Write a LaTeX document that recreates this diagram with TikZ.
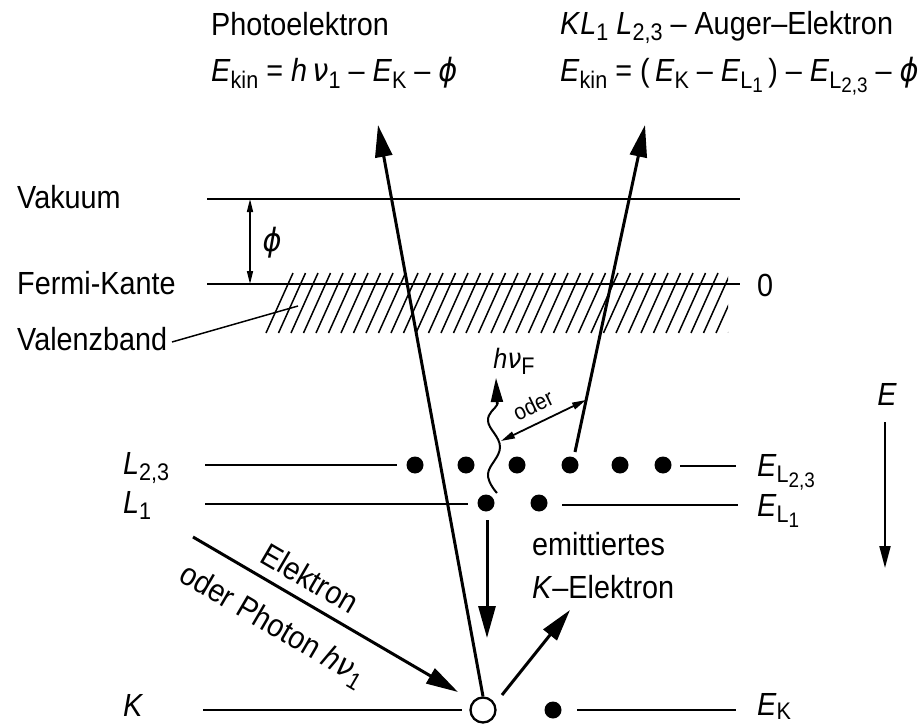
\documentclass[tikz,border=0pt]{standalone}
\usepackage{fontspec}
\setmainfont{Liberation Sans}[FakeStretch=0.9]
\newfontfamily\grk{DejaVu Sans}[FakeStretch=0.9]
\usetikzlibrary{arrows.meta}
\newcommand\lo[1]{\raisebox{-6pt}{\fontsize{24}{24}\selectfont #1}}
\newcommand\llo[1]{\raisebox{-5pt}{\fontsize{21}{21}\selectfont #1}}
\newcommand\gi[1]{{\grk\itshape #1}}
\tikzset{
  txt/.style={inner sep=0pt, anchor=base west, font=\fontsize{32}{38}\selectfont},
  ctxt/.style={inner sep=0pt, anchor=center, font=\fontsize{32}{38}\selectfont},
  lvl/.style={line width=2.3pt},
  thinl/.style={line width=1.5pt},
  bigarrow/.style={line width=3pt, -{Triangle[length=32pt,width=17pt]}},
  dot/.style={circle, fill=black, inner sep=0pt, minimum size=17pt},
  hole/.style={circle, draw=black, line width=2.3pt, inner sep=0pt, minimum size=25pt},
}
\begin{document}
\begin{tikzpicture}[x=1pt,y=-1pt]
\useasboundingbox (0,0) rectangle (922,725);

% titles
\node[txt] (t1) at (211,36) {Photoelektron};
\node[txt] (f1) at (211,82) {\textit{E}\lo{kin} = \textit{h}\,\gi{ν}\lo{1} – \textit{E}\lo{K} – \gi{ϕ}};
\node[txt] (t2) at (560,35) {\textit{K}\textit{L}\lo{1} \textit{L}\lo{2,3} – Auger–Elektron};
\node[txt] (f2) at (560,82) {\textit{E}\lo{kin} = (\,\textit{E}\lo{K} – \textit{E}\lo{L\llo{1}}\,) – \textit{E}\lo{L\llo{2,3}} – \gi{ϕ}};

% left labels
\node[txt] (vak) at (17,208) {Vakuum};
\node[txt] (fer) at (17,294) {Fermi-Kante};
\node[txt] (val) at (17,350) {Valenzband};
\node[txt] (null) at (757,296) {0};
\node[ctxt] (phi) at (272,243) {\gi{ϕ}};

% hatching
\begin{scope}
  \clip (250,271) rectangle (728,336);
  \foreach \k in {0,...,37} {
    \draw[line width=1.5pt] ({293+12.5*\k},273) -- ++(-27,60);
  }
\end{scope}

% levels
\coordinate (vL) at (207,199);
\coordinate (vR) at (740,199);
\coordinate (fL) at (207,284);
\coordinate (fR) at (740,284);
\draw[lvl] (vL) -- (vR);
\draw[lvl] (fL) -- (fR);
\coordinate (phiT) at (250,199);
\coordinate (phiB) at (250,284);
\draw[thinl, {Triangle[length=13pt,width=6pt]}-{Triangle[length=13pt,width=6pt]}] (phiT) -- (phiB);
\coordinate (valE) at (298,306);
\coordinate (valS) at (172,342);
\draw[thinl] (valS) -- (valE);

% L2,3
\node[txt] (lab23) at (123,474) {\textit{L}\lo{2,3}};
\node[dot] (a1) at (415,465) {};
\node[dot] (a2) at (466,465) {};
\node[dot] (a3) at (517,465) {};
\node[dot] (a4) at (570,465) {};
\node[dot] (a5) at (620,465) {};
\node[dot] (a6) at (663,465) {};
\coordinate (l23L) at (205,465);
\coordinate (l23a) at (397,465);
\coordinate (l23b) at (680,466);
\coordinate (l23R) at (736,466);
\draw[lvl] (l23L) -- (l23a);
\draw[lvl] (l23b) -- (l23R);
\node[txt] (E23) at (757,476) {\textit{E}\lo{L\llo{2,3}}};

% L1
\node[txt] (lab1) at (123,513) {\textit{L}\lo{1}};
\node[dot] (b1) at (486,503) {};
\node[dot] (b2) at (539,503) {};
\coordinate (l1L) at (205,504);
\coordinate (l1a) at (468,504);
\coordinate (l1b) at (562,505);
\coordinate (l1R) at (738,505);
\draw[lvl] (l1L) -- (l1a);
\draw[lvl] (l1b) -- (l1R);
\node[txt] (E1) at (757,516) {\textit{E}\lo{L\llo{1}}};

% K
\node[txt] (labK) at (123,716) {\textit{K}};
\node[hole] (hole) at (483,710) {};
\node[dot] (kd) at (553,710) {};
\coordinate (kL) at (203,710);
\coordinate (ka) at (462,710);
\coordinate (kb) at (577,710);
\coordinate (kR) at (736,710);
\draw[lvl] (kL) -- (ka);
\draw[lvl] (kb) -- (kR);
\node[txt] (EK) at (757,715) {\textit{E}\raisebox{-4pt}{\fontsize{24}{24}\selectfont K}};

% photoelectron and Auger electron
\coordinate (ptip) at (378,125);
\draw[bigarrow] (hole.north) -- (ptip);
\coordinate (aS) at (575,452);
\coordinate (atip) at (645,125);
\draw[bigarrow] (aS) -- (atip);

% fluorescence photon
\draw[line width=2pt] plot[smooth, tension=0.7] coordinates {(497,493) (488,474) (500,447) (488,421) (497,405) (497,402)};
\coordinate (hS) at (497,404);
\coordinate (htip) at (496,378);
\draw[line width=2pt, -{Triangle[length=24pt,width=12pt]}] (hS) -- (htip);
\node[ctxt, font=\fontsize{28}{32}\selectfont] (hnu) at (514,361) {\textit{h}\gi{ν}\lo{F}};

% oder arrow
\coordinate (oL) at (501,441);
\coordinate (oR) at (586,400);
\draw[line width=1.8pt, {Triangle[length=14pt,width=7pt]}-{Triangle[length=14pt,width=7pt]}] (oL) -- (oR);
\node[ctxt, font=\fontsize{23}{26}\selectfont, rotate=25.8] (oder) at (533,405) {oder};

% L1 -> K transition
\coordinate (dS) at (487,520);
\coordinate (dE) at (487,638);
\draw[bigarrow] (dS) -- (dE);

% incoming
\coordinate (inS) at (193,537);
\coordinate (inE) at (458,692);
\draw[bigarrow] (inS) -- (inE);
\node[ctxt, rotate=-30.3] (el) at (310,578) {Elektron};
\node[ctxt, rotate=-30.3] (ph) at (272,626) {oder Photon \textit{h}\gi{ν}\lo{1}};

% emitted K electron
\coordinate (eS) at (502,695);
\coordinate (eE) at (570,610);
\draw[bigarrow] (eS) -- (eE);
\node[txt] (em1) at (532,555) {emittiertes};
\node[txt] (em2) at (532,598) {\textit{K}–Elektron};

% energy axis
\node[txt, anchor=base] (Eax) at (887,405) {\textit{E}};
\coordinate (axT) at (885,422);
\coordinate (axB) at (885,568);
\draw[line width=2pt, -{Triangle[length=22pt,width=11pt]}] (axT) -- (axB);
\end{tikzpicture}
\end{document}
